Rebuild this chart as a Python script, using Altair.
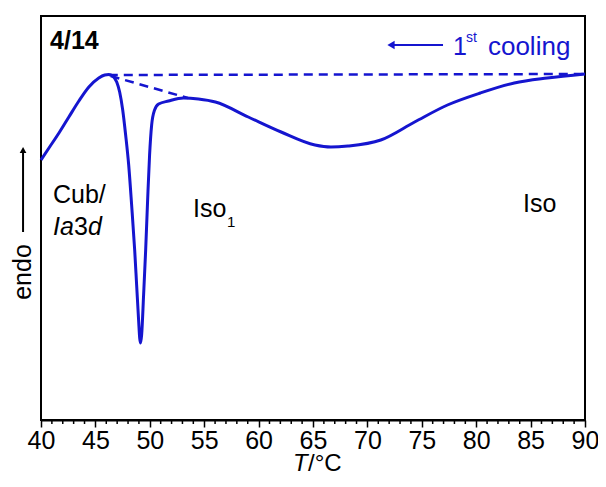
import altair as alt
import pandas as pd

# DSC trace (1st cooling), temperature in °C and heat-flow signal (arbitrary units, endo up)
temp = [40.00, 40.73, 41.65, 42.56, 43.48, 44.40, 45.31, 45.86, 46.23, 46.59, 46.96, 47.23,
        47.51, 47.78, 48.06, 48.33, 48.61, 48.79, 48.97, 49.07, 49.16, 49.25, 49.43, 49.62,
        49.80, 49.98, 50.17, 50.44, 50.81, 51.72, 53.10, 54.47, 56.03, 59.05, 62.07, 65.18,
        66.65, 68.21, 71.23, 74.34, 77.36, 80.38, 83.50, 86.52, 90.00]
signal = [260, 272, 287, 303, 319, 333, 342, 345, 345.5, 344, 338, 328,
          310, 285, 255, 215, 170, 135, 100, 82, 77, 85, 125, 170,
          220, 265, 295, 310, 316, 319, 322, 321, 318, 303, 288, 275,
          273, 274, 280, 298, 315, 327, 337, 342, 346]

# baseline construction lines (dashed)
base_id = ["h", "h", "s", "s"]
base_t = [46.23, 90.00, 46.40, 53.50]
base_v = [345, 346, 344, 322]

major_ticks = [40, 45, 50, 55, 60, 65, 70, 75, 80, 85, 90]
minor_ticks = [t for t in range(40, 91) if t % 5 != 0]

BLUE = "#1515CF"
FONT = "Liberation Sans"

curve_df = pd.DataFrame({"T": temp, "v": signal})
base_df = pd.DataFrame({"id": base_id, "T": base_t, "v": base_v})
minor_df = pd.DataFrame({"T": minor_ticks})
one = pd.DataFrame({"k": [0]})

xscale = alt.Scale(domain=[40, 90], nice=False, zero=False)
yscale = alt.Scale(domain=[0, 404], nice=False, zero=False)

xaxis = alt.Axis(
    values=major_ticks,
    tickSize=7, tickColor="black", tickWidth=1.5,
    domainColor="black", domainWidth=2,
    labelFont=FONT, labelFontSize=25, labelColor="black",
    labelPadding=1, labelFlush=False, labelOverlap=False,
    grid=False, title=None,
)

curve = alt.Chart(curve_df).mark_line(color=BLUE, strokeWidth=3, interpolate="monotone").encode(
    x=alt.X("T:Q", scale=xscale, axis=xaxis),
    y=alt.Y("v:Q", scale=yscale, axis=None),
)

base = alt.Chart(base_df).mark_line(color=BLUE, strokeWidth=2.5, strokeDash=[9, 6]).encode(
    x=alt.X("T:Q", scale=xscale, axis=xaxis),
    y=alt.Y("v:Q", scale=yscale, axis=None),
    detail="id:N",
)

minor = alt.Chart(minor_df).mark_rule(color="black", strokeWidth=1.5).encode(
    x=alt.X("T:Q", scale=xscale, axis=xaxis),
    y=alt.value(405), y2=alt.value(408),
)


def txt(s, t, v, size=25, style="normal", weight="normal", color="black", align="left",
        baseline="alphabetic", angle=0):
    kw = dict(text=s, font=FONT, fontSize=size, fontStyle=style, fontWeight=weight,
              color=color, align=align, baseline=baseline)
    if angle:
        kw["angle"] = angle
    return alt.Chart(one).mark_text(**kw).encode(
        x=alt.X(datum=t, type="quantitative", scale=xscale, axis=xaxis),
        y=alt.Y(datum=v, type="quantitative", scale=yscale, axis=None))


texts = [
    txt("4/14", 40.83, 371, size=25, weight="bold"),
    txt("1", 77.87, 365, color=BLUE),
    txt("st", 79.06, 378, size=14, color=BLUE),
    txt("cooling", 81.08, 365, size=26, color=BLUE),
    txt("Cub/", 41.10, 217),
    txt("Ia", 41.10, 185, style="italic"),
    txt("3", 43.03, 185),
    txt("d", 44.32, 185, style="italic"),
    txt("Iso", 53.97, 203),
    txt("1", 57.10, 193, size=15),
    txt("Iso", 84.30, 208),
    txt("endo", 38.35, 148, align="center", baseline="middle", angle=270),
    txt("T", 63.16, -51, size=24, style="italic"),
    txt("/°C", 64.54, -51, size=24),
]


def seg(t1, t2, v1, v2, color, width):
    return alt.Chart(one).mark_rule(color=color, strokeWidth=width).encode(
        x=alt.X(datum=t1, type="quantitative", scale=xscale, axis=xaxis),
        x2=alt.X2(datum=t2),
        y=alt.Y(datum=v1, type="quantitative", scale=yscale, axis=None),
        y2=alt.Y2(datum=v2))


def head(t, v, shape, color, size):
    return alt.Chart(one).mark_point(shape=shape, filled=True, color=color, size=size,
                                     opacity=1).encode(
        x=alt.X(datum=t, type="quantitative", scale=xscale, axis=xaxis),
        y=alt.Y(datum=v, type="quantitative", scale=yscale, axis=None))


cool_arrow = seg(72.26, 76.95, 375, 375, BLUE, 2)
cool_head = head(72.17, 375, "triangle-left", BLUE, 70)
endo_arrow = seg(38.35, 38.35, 188, 268, "black", 2)
endo_head = head(38.35, 270, "triangle-up", "black", 45)

chart = alt.layer(base, curve, minor, cool_arrow, cool_head, endo_arrow, endo_head,
                  *texts).properties(
    width=544, height=404,
    padding={"left": 33, "top": 8, "right": 13, "bottom": 59},
    autosize=alt.AutoSizeParams(type="none"),
    background="white",
).configure_view(stroke="black", strokeWidth=2)

chart.save("out.html", embed_options={"renderer": "svg", "actions": False})
